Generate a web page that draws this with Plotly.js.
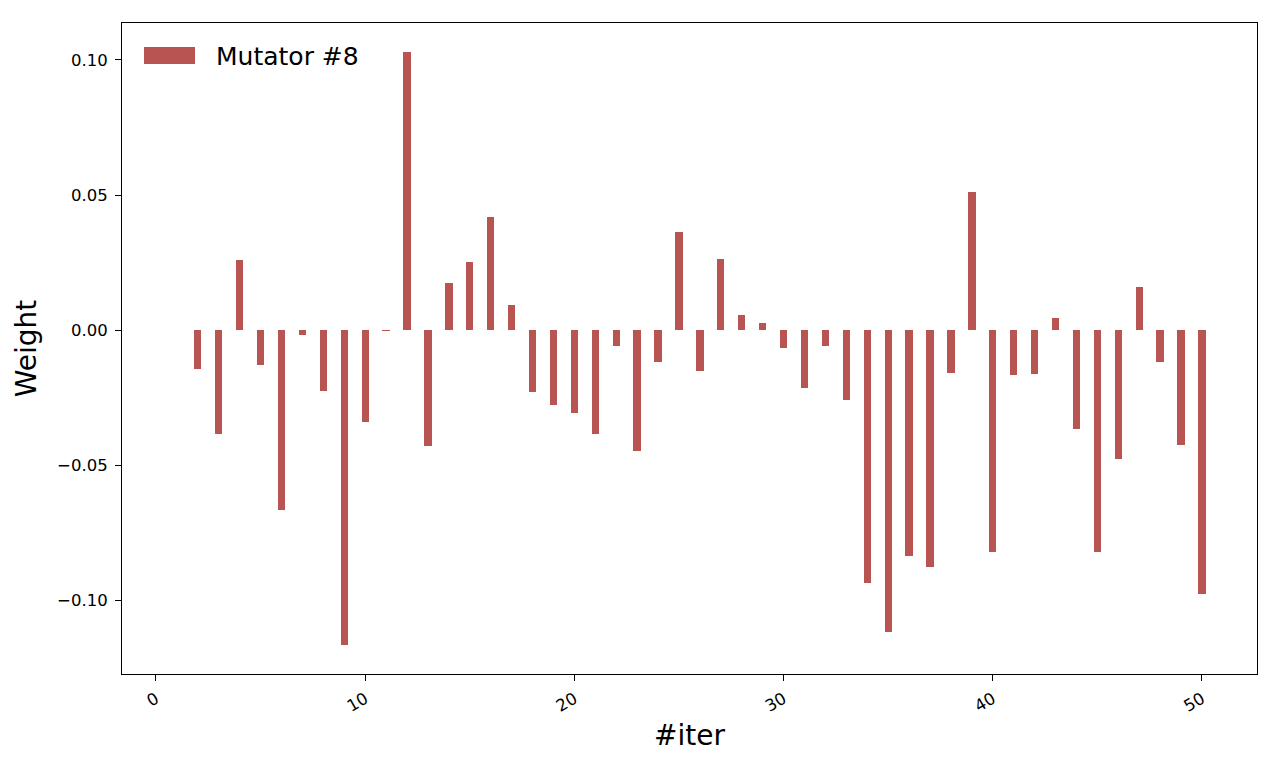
<!DOCTYPE html>
<html>
<head>
<meta charset="utf-8">
<script src="https://cdn.plot.ly/plotly-3.0.1.min.js"></script>
<style>html,body{margin:0;padding:0;background:#fff;}#chart{width:1280px;height:768px;}</style>
</head>
<body>
<div id="chart"></div>
<script>
const seriesName = "Mutator #8";
const iters = [2,3,4,5,6,7,8,9,10,11,12,13,14,15,16,17,18,19,20,21,22,23,24,25,26,27,28,29,30,31,32,33,34,35,36,37,38,39,40,41,42,43,44,45,46,47,48,49,50];
const weights = [-0.0144,-0.0385,0.0259,-0.0130,-0.0667,-0.0019,-0.0226,-0.1167,-0.0341,-0.0004,0.1030,-0.0430,0.0174,
  0.0252,0.0419,0.0093,-0.0230,-0.0278,-0.0307,-0.0385,-0.0059,-0.0448,-0.0119,0.0363,-0.0152,0.0263,
  0.0056,0.0026,-0.0067,-0.0215,-0.0059,-0.0259,-0.0937,-0.1119,-0.0837,-0.0878,-0.0159,0.0511,
  -0.0822,-0.0167,-0.0163,0.0044,-0.0367,-0.0822,-0.0478,0.0159,-0.0119,-0.0426,-0.0978];
const xTicks = [0,10,20,30,40,50];
const yTicks = [-0.10,-0.05,0.00,0.05,0.10];
const barColor = "#b85552";

const trace = {
  type: "bar",
  x: iters,
  y: weights,
  width: 0.35,
  name: seriesName,
  marker: {color: barColor, line: {width: 0}},
  showlegend: false
};

const font = {family: "DejaVu Sans, sans-serif", color: "#000"};
const layout = {
  width: 1280, height: 768,
  margin: {l: 122, r: 23, t: 23, b: 94},
  paper_bgcolor: "#fff", plot_bgcolor: "#fff",
  font: Object.assign({size: 16.5}, font),
  bargap: 0,
  xaxis: {
    range: [-1.625, 52.63],
    tickvals: xTicks,
    ticktext: xTicks.map(String),
    tickangle: -30,
    ticks: "outside", ticklen: 6, tickwidth: 1, tickcolor: "#000",
    ticklabelstandoff: 2,
    showline: true, linecolor: "#000", linewidth: 1, mirror: true,
    showgrid: false, zeroline: false,
    tickfont: {size: 16.5},
    title: {text: "#iter", font: {size: 28}, standoff: 10}
  },
  yaxis: {
    range: [-0.1274, 0.1137],
    tickvals: yTicks,
    ticktext: yTicks.map(v => (v < 0 ? "\u2212" : "") + Math.abs(v).toFixed(2)),
    ticks: "outside", ticklen: 6, tickwidth: 1, tickcolor: "#000",
    ticklabelstandoff: 4,
    showline: true, linecolor: "#000", linewidth: 1, mirror: true,
    showgrid: false, zeroline: false,
    tickfont: {size: 16.5},
    title: {text: "Weight", font: {size: 28}, standoff: 12}
  },
  shapes: [{
    type: "rect", xref: "paper", yref: "paper",
    x0: (144-122)/1135, x1: (195-122)/1135,
    y0: (674-64)/651, y1: (674-47)/651,
    fillcolor: barColor, line: {width: 0}
  }],
  annotations: [{
    xref: "paper", yref: "paper",
    x: (214-122)/1135, y: (674-56)/651,
    xanchor: "left", yanchor: "middle",
    text: seriesName, showarrow: false,
    font: {size: 25, color: "#000"}
  }]
};

Plotly.newPlot("chart", [trace], layout, {displayModeBar: false, staticPlot: true});
</script>
</body>
</html>
